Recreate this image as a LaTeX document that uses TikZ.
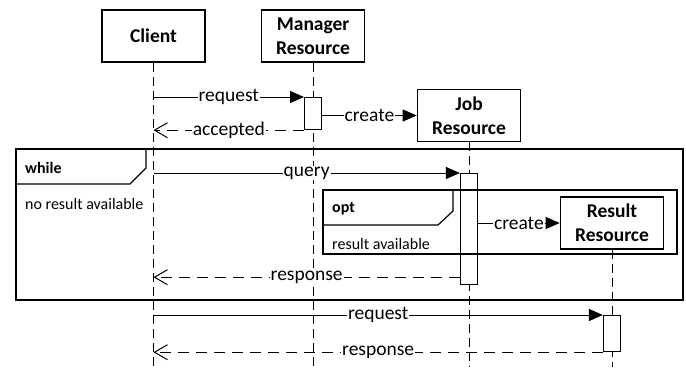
\documentclass[tikz,border=0pt]{standalone}
\usepackage{fontspec}
\setmainfont{Carlito}
\usetikzlibrary{arrows.meta,positioning}

\begin{document}
\begin{tikzpicture}[x=1bp,y=-1bp,
obj/.style={draw,line width=1.6bp,align=center,minimum width=103bp,minimum height=52bp,inner sep=0pt,font=\fontsize{19.5bp}{24bp}\selectfont\bfseries},
act/.style={draw,fill=white,line width=1.2bp,minimum width=17bp,inner sep=0pt,anchor=north},
life/.style={line width=1bp,dash pattern=on 9bp off 5bp},
msg/.style={-{Triangle[length=14bp,width=12bp]},line width=1bp},
ret/.style={-{Straight Barb[length=13bp,width=15bp]},line width=1bp,dash pattern=on 11bp off 7bp},
lbl/.style={fill=white,inner sep=1bp,font=\fontsize{19.5bp}{23bp}\selectfont},
frm/.style={line width=1.2bp},
small/.style={anchor=west,inner sep=0pt,font=\fontsize{16bp}{19bp}\selectfont}]
\useasboundingbox (0,0) rectangle (686,367);

\node[obj] (client) at (153.5,36) {Client};
\node[obj,right=55bp of client] (manager) {Manager\\Resource};
\node[obj] (job) at (469,115.5) {Job\\Resource};
\node[obj] (result) at (612,223) {Result\\Resource};
\coordinate (bottom) at (0,367);

\foreach \o in {client,manager,job,result}
  \draw[life] (\o.south) -- (\o.south |- bottom);

\node[act,minimum height=32bp] (mact) at (manager.south |- 0,97) {};
\node[act,minimum height=111bp] (jact) at (job.south |- 0,173) {};
\node[act,minimum height=36bp] (ract) at (result.south |- 0,315) {};
\coordinate (jret) at ([yshift=8bp]jact.south west);

\draw[msg] (client |- mact.north west) -- node[lbl]{request} (mact.north west);
\draw[ret] (mact.south west) -- node[lbl]{accepted} (client |- mact.south west);
\draw[msg] (mact.east |- job.west) -- node[lbl]{create} (job.west);
\draw[msg] (client |- jact.north west) -- node[lbl]{query} (jact.north west);
\draw[msg] (jact.east |- result.west) -- node[lbl]{create} (result.west);
\draw[ret] (jret) -- node[lbl]{response} (client |- jret);
\draw[msg] (client |- ract.north west) -- node[lbl]{request} (ract.north west);
\draw[ret] (ract.south west) -- node[lbl]{response} (client |- ract.south west);

% while loop
\coordinate (wtl) at (16,149);
\coordinate (wbr) at (683,300);
\draw[frm] (wtl) rectangle (wbr);
\draw[frm] ([yshift=-35bp]wtl) -- ++(114,0) -- ++(16,-16) -- ++(0,-19);
\node[small] (whilelbl) at (25,168) {\bfseries while};
\node[small] (whilecond) at (25,204) {no result available};

% opt block
\coordinate (otl) at (323,190);
\coordinate (obr) at (677,254);
\draw[frm] (otl) rectangle (obr);
\draw[frm] ([yshift=-35bp]otl) -- ++(115,0) -- ++(15,-14) -- ++(0,-21);
\node[small] (optlbl) at (332,209) {\bfseries opt};
\node[small] (optcond) at (332,244) {result available};
\end{tikzpicture}
\end{document}
